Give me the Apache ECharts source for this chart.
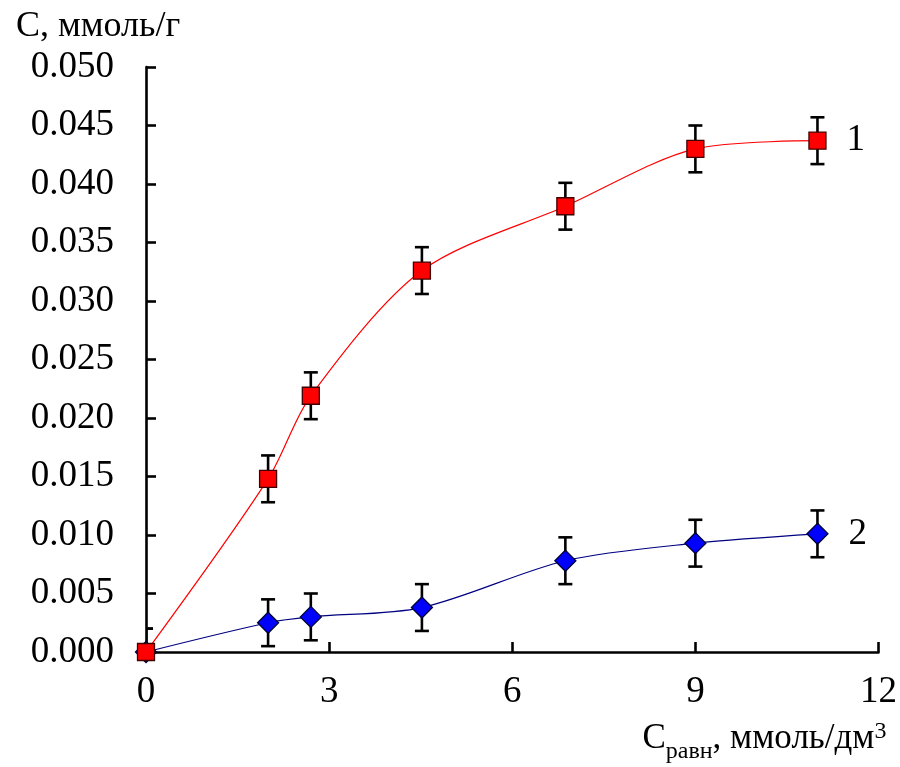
<!DOCTYPE html>
<html><head><meta charset="utf-8">
<script src="https://cdn.jsdelivr.net/npm/echarts@6/dist/echarts.min.js"></script>
<style>html,body{margin:0;padding:0;background:#fff}#c{width:900px;height:767px}</style>
</head><body><div id="c"></div>
<script>
var xValues = [0, 2, 2.7, 4.52, 6.87, 9, 11];
var series1 = [0, 0.0148, 0.0219, 0.0326, 0.0381, 0.0430, 0.0437];
var series2 = [0, 0.0025, 0.0030, 0.0038, 0.0078, 0.0093, 0.0101];
var err1 = [0.002, 0.002, 0.002, 0.002, 0.002, 0.002, 0.002];
var err2 = [0.002, 0.002, 0.002, 0.002, 0.002, 0.002, 0.002];
var seriesLabels = ['1', '2'];

var FONT = '"Liberation Serif", "Times New Roman", serif';
function pts(ys){ return xValues.map(function(x,i){ return [x, ys[i]]; }); }
function errData(ys, es){ return xValues.map(function(x,i){ return [x, ys[i]-es[i], ys[i]+es[i]]; }); }
function errRender(params, api){
  var x = api.value(0), lo = api.value(1), hi = api.value(2);
  var p1 = api.coord([x, hi]), p2 = api.coord([x, lo]);
  var w = 7;
  var st = {stroke:'#000', lineWidth:2.6, fill:null};
  return {type:'group', children:[
    {type:'line', shape:{x1:p1[0],y1:p1[1],x2:p2[0],y2:p2[1]}, style:st},
    {type:'line', shape:{x1:p1[0]-w,y1:p1[1],x2:p1[0]+w,y2:p1[1]}, style:st},
    {type:'line', shape:{x1:p2[0]-w,y1:p2[1],x2:p2[0]+w,y2:p2[1]}, style:st}
  ]};
}
function lastLabel(ys, txt){
  return pts(ys).map(function(d,i){
    if (i === ys.length-1) return {value:d, label:{show:true, position:'right', distance:20, formatter:txt, fontFamily:FONT, fontSize:37, color:'#000'}};
    return d;
  });
}
var chart = echarts.init(document.getElementById('c'), null, {renderer:'canvas'});
chart.setOption({
  backgroundColor:'#fff',
  animation:false,
  title:{text:'C, ммоль/г', left:11, top:4, textStyle:{fontFamily:FONT, fontSize:36, fontWeight:'normal', color:'#000'}},
  grid:{left:146, right:20, top:67, bottom:115, containLabel:false},
  xAxis:{type:'value', min:0, max:12, interval:3,
    axisLine:{show:true, onZero:false, lineStyle:{color:'#000', width:2.6}},
    axisTick:{show:true, inside:true, length:10, lineStyle:{color:'#000', width:2.6}},
    axisLabel:{fontFamily:FONT, fontSize:37, color:'#000', margin:22},
    splitLine:{show:false},
    name:'{a|C}{b|равн}{a|, ммоль/дм}{c|3}', nameLocation:'end', nameGap:8,
    nameTextStyle:{align:'right', verticalAlign:'top', padding:[62,0,0,0],
      rich:{a:{fontFamily:FONT, fontSize:35, color:'#000', lineHeight:50, verticalAlign:'middle'},
            b:{fontFamily:FONT, fontSize:24, color:'#000', lineHeight:24, verticalAlign:'bottom'},
            c:{fontFamily:FONT, fontSize:24, color:'#000', lineHeight:24, verticalAlign:'top', padding:[6,0,0,0]}}}
  },
  yAxis:{type:'value', min:0, max:0.05, interval:0.005,
    axisLine:{show:true, lineStyle:{color:'#000', width:2.6}},
    axisTick:{show:true, inside:true, length:10, lineStyle:{color:'#000', width:2.6}},
    axisLabel:{fontFamily:FONT, fontSize:37, color:'#000', margin:32, formatter:function(v){return v.toFixed(3);}},
    splitLine:{show:false}
  },
  series:[
    {type:'custom', renderItem:errRender, data:errData(series1, err1), z:3, clip:true, encode:{x:0,y:[1,2]}},
    {type:'custom', renderItem:errRender, data:errData(series2, err2), z:3, clip:true, encode:{x:0,y:[1,2]}},
    {type:'line', data:lastLabel(series2, seriesLabels[1]), smooth:0.3, symbol:'diamond', symbolSize:21,
      lineStyle:{color:'#000080', width:1.2}, itemStyle:{color:'#0000ff', borderColor:'#000033', borderWidth:1.3}, z:5},
    {type:'line', data:lastLabel(series1, seriesLabels[0]), smooth:0.3, symbol:'rect', symbolSize:17,
      lineStyle:{color:'#ff0000', width:1.2}, itemStyle:{color:'#ff0000', borderColor:'#400000', borderWidth:1.3}, z:6}
  ]
});
</script></body></html>
